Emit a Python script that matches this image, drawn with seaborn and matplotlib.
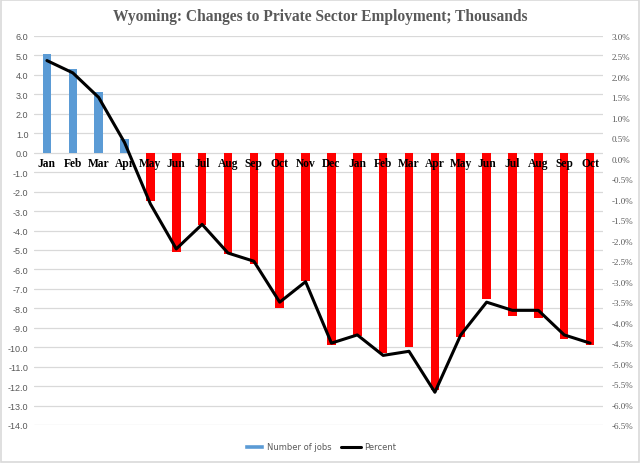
import numpy as np
import pandas as pd
import matplotlib
matplotlib.use("Agg")
import matplotlib.pyplot as plt
import seaborn as sns
from matplotlib.patches import Rectangle, Patch
from matplotlib.lines import Line2D

months = ["Jan", "Feb", "Mar", "Apr", "May", "Jun", "Jul", "Aug", "Sep", "Oct", "Nov",
          "Dec", "Jan", "Feb", "Mar", "Apr", "May", "Jun", "Jul", "Aug", "Sep", "Oct"]
jobs = [5.1, 4.3, 3.1, 0.7, -2.5, -5.1, -3.7, -5.2, -5.7, -8.0, -6.6,
        -9.9, -9.4, -10.3, -10.0, -12.2, -9.5, -7.5, -8.4, -8.5, -9.6, -9.9]
percent = [2.4, 2.1, 1.5, 0.4, -1.1, -2.2, -1.6, -2.3, -2.5, -3.5, -3.0,
           -4.5, -4.3, -4.8, -4.7, -5.7, -4.3, -3.5, -3.7, -3.7, -4.3, -4.5]

sns.set_theme(style="white")
grey = "#595959"

pos = list(range(len(months)))
df = pd.DataFrame({"pos": pos, "jobs": jobs, "percent": percent})
bar_cols = ["#5B9BD5" if v > 0 else "#FF0000" for v in jobs]

fig = plt.figure(figsize=(6.4, 4.64), dpi=100)
ax = fig.add_axes([34/640, 1-426/464, (603-34)/640, (426-37)/464])

sns.barplot(data=df, x="pos", y="jobs", hue="pos", palette=bar_cols, legend=False,
            width=0.33, saturation=1, linewidth=0, edgecolor="none", ax=ax, zorder=2)
ax.set_xlim(-0.5, len(months) - 0.5)
ax.set_ylim(-14, 6)
ax.set_yticks(np.arange(-14, 6.1, 1.0))
ax.set_yticklabels([f"{v:.1f}" for v in np.arange(-14, 6.1, 1.0)],
                   color=grey, fontsize=6.5, family="Liberation Sans")
ax.set_xticks([])
ax.set_xlabel("")
ax.set_ylabel("")
ax.grid(axis="y", color="#D9D9D9", lw=0.9, zorder=0)
ax.set_axisbelow(True)
for s in ax.spines.values():
    s.set_visible(False)
ax.tick_params(axis="y", length=0, pad=4)

for i, m in enumerate(months):
    ax.text(i, -0.55, m, ha="center", va="center", fontsize=8.3, fontweight="bold",
            family="Liberation Serif", color="black", zorder=5)

ax2 = ax.twinx()
sns.lineplot(data=df, x="pos", y="percent", color="black", lw=2.2, ax=ax2, zorder=6)
ax2.set_ylim(-6.5, 3.0)
rt = np.arange(-6.5, 3.01, 0.5)
ax2.set_yticks(rt)
ax2.set_yticklabels([f"{v:.1f}%" for v in rt], color=grey, fontsize=6.5,
                    family="Liberation Serif")
ax2.set_ylabel("")
ax2.tick_params(axis="y", length=0, pad=6)
for s in ax2.spines.values():
    s.set_visible(False)

fig.text(0.5, 1-17/464, "Wyoming: Changes to Private Sector Employment; Thousands",
         ha="center", va="center", fontsize=11.2, fontweight="bold",
         family="Liberation Serif", color=grey)

handles = [Patch(facecolor="#5B9BD5", label="Number of jobs"),
           Line2D([0], [0], color="black", lw=2.2, label="Percent")]
fig.legend(handles=handles, loc="center", bbox_to_anchor=(0.5, 1-448/464), ncol=2,
           frameon=False, fontsize=6, labelcolor=grey, handlelength=2.4,
           handleheight=0.4, columnspacing=1.2, handletextpad=0.3)

fig.patches.append(Rectangle((0.002, 0.002), 0.996, 0.996, transform=fig.transFigure,
                             fill=False, edgecolor="#D9D9D9", lw=1.2))

fig.savefig("out.png", dpi=100)
